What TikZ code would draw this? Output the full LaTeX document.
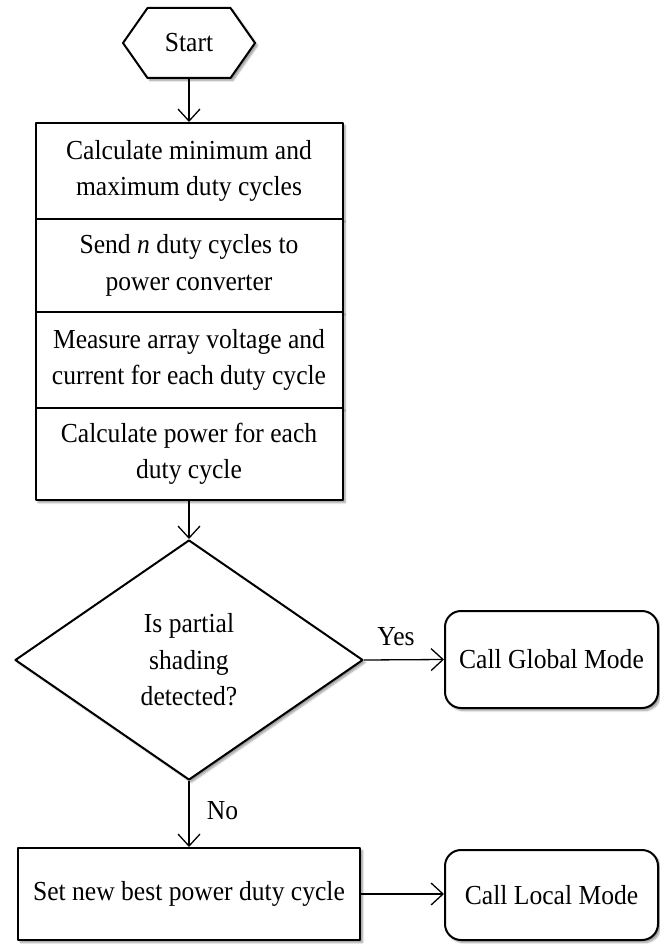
\documentclass[tikz,border=0pt]{standalone}
\usepackage{fontspec}
\setmainfont[FakeStretch=0.93]{Liberation Serif}
\usetikzlibrary{shapes.geometric,shapes.symbols,arrows.meta,shadows.blur}
\begin{document}
\begin{tikzpicture}[x=1pt,y=-1pt,
  every node/.style={font=\fontsize{27.5}{36.5}\selectfont},
  shadowed/.style={blur shadow={shadow xshift=2.5pt, shadow yshift=-2.5pt, shadow blur steps=6, shadow opacity=40}},
  box/.style={draw, line width=2pt, line join=round, fill=white, inner sep=0pt, align=center, shadowed},
  conn/.style={line width=1.3pt, -{Straight Barb[length=12pt,width=22pt,line width=1.3pt]}},
]
\useasboundingbox (0,0) rectangle (660,944);
\node[box, shape=signal, signal to=east and west, signal pointer angle=110, minimum width=132pt, minimum height=70pt] (start) at (189,43) {Start};
\node[box, minimum width=307pt, minimum height=96pt] (b1) at (189,171) {Calculate minimum and\\maximum duty cycles};
\node[box, minimum width=307pt, minimum height=93pt] (b2) at (189,265.5) {Send \textit{n} duty cycles to\\power converter};
\node[box, minimum width=307pt, minimum height=96pt] (b3) at (189,360) {Measure array voltage and\\current for each duty cycle};
\node[box, minimum width=307pt, minimum height=92pt] (b4) at (189,454) {Calculate power for each\\duty cycle};
\node[box, diamond, minimum width=348pt, minimum height=240pt] (dec) at (189,660) {Is partial\\shading\\detected?};
\node[box, rounded corners=16pt, minimum width=213pt, minimum height=97pt] (glob) at (551.5,659.5) {Call Global Mode};
\node[box, minimum width=342pt, minimum height=92pt] (set) at (189,894) {Set new best power duty cycle};
\node[box, rounded corners=16pt, minimum width=213pt, minimum height=90pt] (loc) at (551.5,895) {Call Local Mode};
\draw[conn] (start) -- (b1);
\draw[conn] (b4) -- (dec);
\draw[conn] (dec.east) -- node[above=10pt, pos=0.4] {Yes} (glob.west);
\draw[conn] (dec.south) -- node[right=14pt, pos=0.45] {No} (set.north);
\draw[conn] (set.east) -- (set.east -| loc.west);
\end{tikzpicture}
\end{document}
